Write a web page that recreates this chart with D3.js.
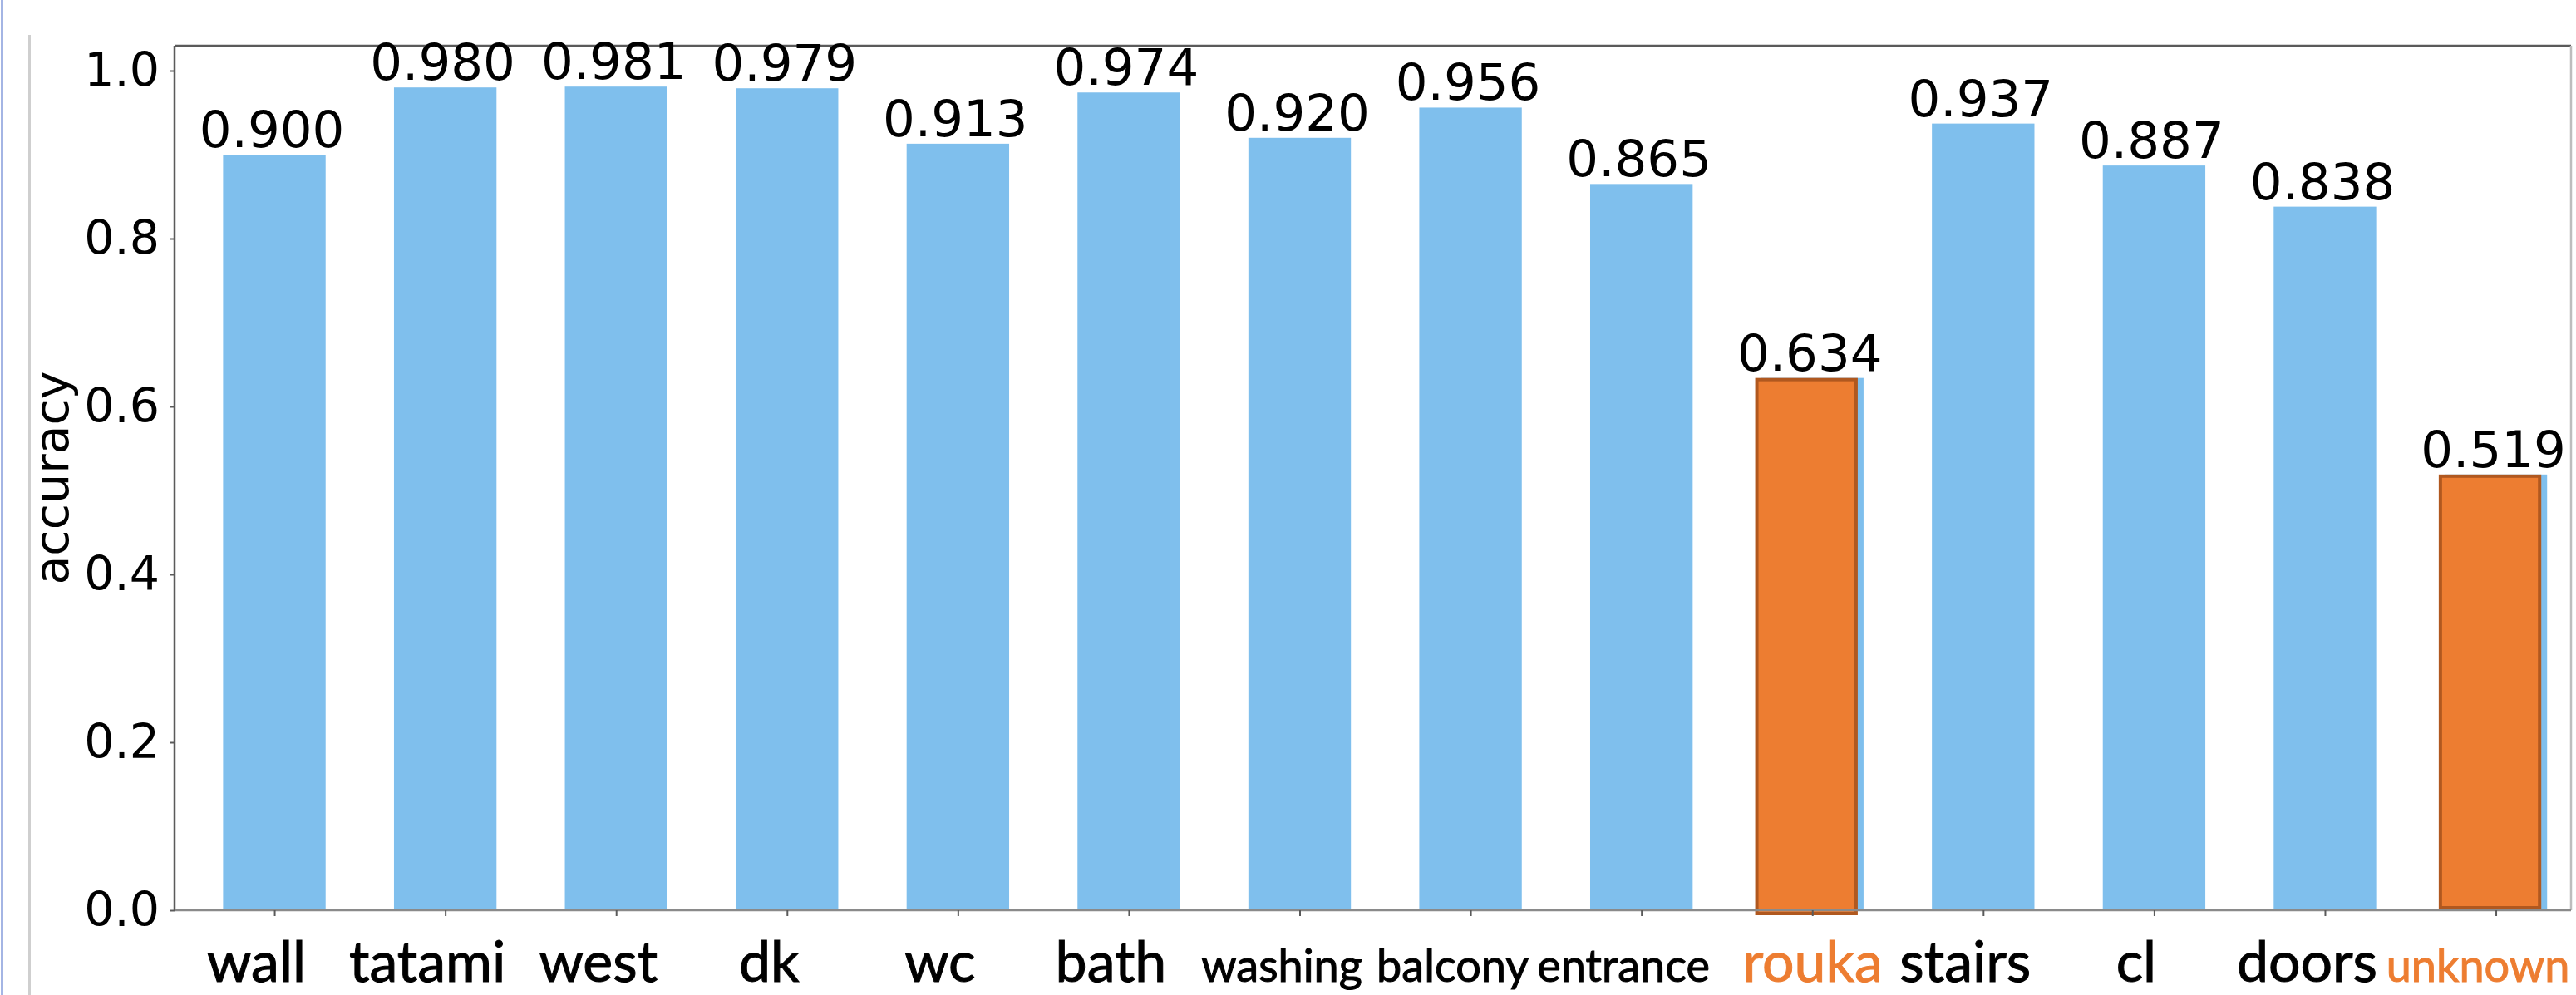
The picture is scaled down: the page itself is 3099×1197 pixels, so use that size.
<!DOCTYPE html>
<html>
<head>
<meta charset="utf-8">
<script src="https://cdn.jsdelivr.net/npm/d3@7"></script>
<style>
  html, body { margin: 0; padding: 0; background: #ffffff; }
  svg { display: block; }
</style>
</head>
<body>
<svg id="chart" width="3099" height="1197"></svg>
<script>
// Per-class accuracy
const categories = ["wall", "tatami", "west", "dk", "wc", "bath", "washing", "balcony",
                    "entrance", "rouka", "stairs", "cl", "doors", "unknown"];
const accuracy = [0.900, 0.980, 0.981, 0.979, 0.913, 0.974, 0.920, 0.956,
                  0.865, 0.634, 0.937, 0.887, 0.838, 0.519];
const highlighted = ["rouka", "unknown"];
const smallLabels = ["washing", "balcony", "entrance", "unknown"];
const yTicks = [0.0, 0.2, 0.4, 0.6, 0.8, 1.0];
const yLabel = "accuracy";

const W = 3099, H = 1197;
const plot = { left: 210, right: 3093, top: 55, bottom: 1095 };
const blue = "#7fbfed", orange = "#ed7d31", orangeEdge = "#b0581f";
const spine = "#5a5a5a";

const svg = d3.select("#chart");

// slide frame lines on the left
svg.append("line").attr("x1", 2.5).attr("x2", 2.5).attr("y1", 0).attr("y2", H)
  .attr("stroke", "#4a6cc9").attr("stroke-width", 2);
svg.append("line").attr("x1", 35.5).attr("x2", 35.5).attr("y1", 42).attr("y2", H)
  .attr("stroke", "#cfcfcf").attr("stroke-width", 3);

const x = d3.scaleLinear().domain([-0.584, 13.44]).range([plot.left, plot.right]);
const y = d3.scaleLinear().domain([0, 1.03]).range([plot.bottom, plot.bottom - 1.03 * 1010]);
const step = x(1) - x(0);
const barW = 0.6 * step;

const idx = categories.map((c, i) => i);

// bars
svg.append("g").selectAll("rect").data(idx).join("rect")
  .attr("x", i => x(i) - barW / 2)
  .attr("y", i => y(accuracy[i]))
  .attr("width", barW)
  .attr("height", i => y(0) - y(accuracy[i]))
  .attr("fill", blue);

// highlighted classes
const hi = idx.filter(i => highlighted.includes(categories[i]));
svg.append("g").selectAll("rect").data(hi).join("rect")
  .attr("x", i => x(i) - barW / 2 - 5)
  .attr("y", i => y(accuracy[i]) + 2)
  .attr("width", barW - 4)
  .attr("height", i => y(0) - y(accuracy[i]) + (categories[i] === "rouka" ? 2 : -5))
  .attr("fill", orange)
  .attr("stroke", orangeEdge)
  .attr("stroke-width", 4);

// axes frame
const frame = svg.append("g").attr("fill", "none").attr("stroke", spine).attr("stroke-width", 2.5);
frame.append("line").attr("x1", plot.left).attr("x2", plot.right).attr("y1", plot.top).attr("y2", plot.top);
frame.append("line").attr("x1", plot.left).attr("x2", plot.left).attr("y1", plot.top).attr("y2", plot.bottom);
frame.append("line").attr("x1", plot.right).attr("x2", plot.right).attr("y1", plot.top).attr("y2", plot.bottom)
  .attr("stroke", "#bdbdbd");
frame.append("line").attr("x1", plot.left).attr("x2", plot.right).attr("y1", plot.bottom).attr("y2", plot.bottom)
  .attr("stroke", "#8a8a8a");

// y axis
const yAxis = svg.append("g").attr("transform", `translate(${plot.left},0)`)
  .call(d3.axisLeft(y).tickValues(yTicks).tickFormat(d3.format(".1f")).tickSize(6).tickPadding(12));
yAxis.select(".domain").remove();
yAxis.selectAll(".tick line").attr("stroke", spine).attr("stroke-width", 2);
yAxis.selectAll(".tick text")
  .attr("font-family", "DejaVu Sans").attr("font-size", 57).attr("fill", "#000");

// x axis
const xAxis = svg.append("g").attr("transform", `translate(0,${plot.bottom})`)
  .call(d3.axisBottom(x).tickValues(idx).tickFormat(i => categories[i]).tickSize(7).tickPadding(0));
xAxis.select(".domain").remove();
xAxis.selectAll(".tick line").attr("stroke", spine).attr("stroke-width", 2);
xAxis.selectAll(".tick text")
  .attr("y", 86).attr("dy", 0).attr("x", i => categories[i] === "rouka" ? 0 : -22)
  .attr("font-family", "Lato, 'Open Sans', sans-serif")
  .attr("font-size", i => smallLabels.includes(categories[i]) ? 54 : 68)
  .attr("fill", i => highlighted.includes(categories[i]) ? orange : "#000")
  .attr("stroke", i => highlighted.includes(categories[i]) ? orange : "#000")
  .attr("stroke-width", 1);

// value labels
svg.append("g").selectAll("text").data(idx).join("text")
  .attr("x", i => x(i) - 3)
  .attr("y", i => y(accuracy[i]) - 9)
  .attr("text-anchor", "middle")
  .attr("font-family", "DejaVu Sans")
  .attr("font-size", 61)
  .attr("fill", "#000")
  .text(i => d3.format(".3f")(accuracy[i]));

// y label
svg.append("text")
  .attr("transform", `translate(82,${(plot.top + plot.bottom) / 2}) rotate(-90)`)
  .attr("text-anchor", "middle")
  .attr("font-family", "DejaVu Sans")
  .attr("font-size", 57)
  .attr("fill", "#000")
  .text(yLabel);
</script>
</body>
</html>
